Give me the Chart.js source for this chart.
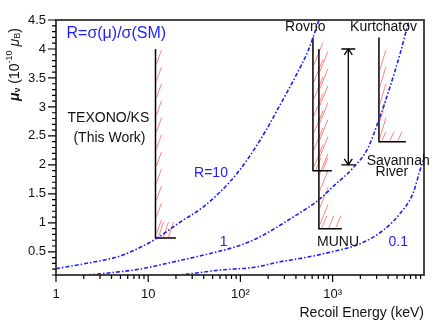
<!DOCTYPE html>
<html>
<head>
<meta charset="utf-8">
<script src="https://cdn.jsdelivr.net/npm/chart.js@4/dist/chart.umd.min.js"></script>
<style>
  html, body { margin: 0; padding: 0; background: #fff; }
</style>
</head>
<body>
<canvas id="c" width="436" height="322"></canvas>
<script>
// R = sigma(mu)/sigma(SM) sensitivity curves
const r10E  = [1, 2.3, 4.8, 7.8, 12, 22.6, 40, 77, 120, 190, 262, 394, 546, 671, 730];
const r10Mu = [0.21, 0.31, 0.42, 0.56, 0.72, 1.02, 1.28, 1.71, 2.1, 2.6, 3.0, 3.52, 3.98, 4.38, 4.55];
const r1E   = [2.2, 4, 8, 17, 40, 90, 150, 400, 700, 1050, 1650, 2400, 3160, 4200, 5400, 6300, 6900];
const r1Mu  = [0.1, 0.14, 0.2, 0.31, 0.445, 0.59, 0.73, 1.13, 1.39, 1.65, 1.94, 2.28, 2.77, 3.35, 3.92, 4.32, 4.55];
const r01E  = [20, 27, 60, 142, 271, 394, 890, 2020, 3570, 5380, 7450, 9120, 9800];
const r01Mu = [0.1, 0.117, 0.186, 0.233, 0.33, 0.37, 0.485, 0.645, 0.876, 1.16, 1.51, 1.97, 2.1];

// experimental limits: energy threshold, top of line, limit value, end of foot
const limitNames = ["TEXONO", "Rovno", "MUNU", "Kurtchatov"];
const limitE     = [12, 612, 710, 3180];
const limitTop   = [4.0, 4.2, 4.0, 4.2];
const limitLow   = [0.74, 1.9, 0.9, 2.4];
const limitFootE = [20, 980, 1260, 6230];

// Savannah River range (arrow)
const srE = 1480;
const srRange = [2.0, 4.0];

// axis
const xMin = 1, xMax = 9800;
const yMin = 0.1, yMax = 4.5;

// text annotations [text, energy, mu, colour, align]
const notes = [
  ["R=σ(μ)/σ(SM)", 1.3, 4.27, "blue", "left"],
  ["TEXONO/KS", 3.7, 2.81, "black", "center"],
  ["(This Work)", 3.8, 2.46, "black", "center"],
  ["R=10", 48, 1.86, "blue", "center"],
  ["1", 66, 0.67, "blue", "center"],
  ["0.1", 5150, 0.67, "blue", "center"],
  ["MUNU", 1145, 0.67, "black", "center"],
  ["Rovno", 505, 4.38, "black", "center"],
  ["Kurtchatov", 3570, 4.38, "black", "center"],
  ["Savannah", 2340, 2.07, "black", "left"],
  ["River", 2920, 1.87, "black", "left"]
];

const BLUE = "rgb(30,30,255)";
const FONT = "'Liberation Sans', Arial, sans-serif";

// hatch look per limit (px)
const hatchStyle = [
  { vStep: 17, vw: 5, vh: 14, hStep: 5, hw: 5, hh: 15 },
  { vStep: 17, vw: 9, vh: 22, hStep: 7, hw: 5, hh: 12 },
  { vStep: 17, vw: 8, vh: 20, hStep: 7, hw: 5, hh: 12 },
  { vStep: 17, vw: 6, vh: 20, hStep: 8, hw: 4, hh: 9 }
];

function pts(xs, ys) { return xs.map((x, i) => ({ x: x, y: ys[i] })); }

function curve(xs, ys) {
  return {
    data: pts(xs, ys),
    borderColor: BLUE,
    borderWidth: 1.6,
    borderDash: [4, 2, 1.5, 2],
    pointRadius: 0,
    cubicInterpolationMode: "monotone",
    fill: false
  };
}

const datasets = [curve(r10E, r10Mu), curve(r1E, r1Mu), curve(r01E, r01Mu)];
limitNames.forEach((n, i) => {
  datasets.push({
    label: n,
    data: [
      { x: limitE[i], y: limitTop[i] },
      { x: limitE[i], y: limitLow[i] },
      { x: limitFootE[i], y: limitLow[i] }
    ],
    borderColor: "#000",
    borderWidth: 1.5,
    pointRadius: 0,
    tension: 0,
    hatch: hatchStyle[i]
  });
});
datasets.push({
  label: "SR",
  data: [{ x: srE, y: srRange[0] }, { x: srE, y: srRange[1] }],
  borderColor: "#000",
  borderWidth: 1.3,
  pointRadius: 0,
  arrow: true
});

const sup = { 2: "²", 3: "³", 4: "⁴" };
function isPow10(v) {
  const e = Math.log10(v);
  return Math.abs(e - Math.round(e)) < 1e-9;
}

const decor = {
  id: "decor",
  beforeDatasetsDraw(chart) {
    const ctx = chart.ctx, a = chart.chartArea;
    ctx.save();
    ctx.beginPath();
    ctx.rect(a.left, a.top, a.right - a.left, a.bottom - a.top);
    ctx.clip();
    ctx.strokeStyle = "rgba(255,110,110,0.85)";
    ctx.lineWidth = 1;
    chart.data.datasets.forEach((ds, di) => {
      if (!ds.hatch) return;
      const h = ds.hatch;
      const p = chart.getDatasetMeta(di).data;
      const x0 = p[0].x, yTop = p[0].y, yLow = p[1].y, xEnd = p[2].x;
      ctx.beginPath();
      for (let y = yLow - 4; y - h.vh > yTop - 4; y -= h.vStep) {
        ctx.moveTo(x0 + 1, y);
        ctx.lineTo(x0 + 1 + h.vw, y - h.vh);
      }
      for (let x = x0 + 3; x + h.hw <= xEnd + 2; x += h.hStep) {
        ctx.moveTo(x, yLow - 1);
        ctx.lineTo(x + h.hw, yLow - 1 - h.hh);
      }
      ctx.stroke();
    });
    ctx.restore();
  },
  afterDraw(chart) {
    const ctx = chart.ctx, a = chart.chartArea;
    const xs = chart.scales.x, ys = chart.scales.y;
    ctx.save();

    // frame
    ctx.strokeStyle = "#333";
    ctx.lineWidth = 1.8;
    ctx.strokeRect(a.left, a.top, a.right - a.left, a.bottom - a.top);

    // ticks
    ctx.strokeStyle = "#000";
    ctx.lineWidth = 1.2;
    ctx.beginPath();
    xs.ticks.forEach(t => {
      const v = t.value;
      const sig = v / Math.pow(10, Math.floor(Math.log10(v) + 1e-9));
      if (Math.abs(sig - Math.round(sig)) > 1e-6) return;
      const px = xs.getPixelForValue(v);
      if (px > a.right - 1) return;
      ctx.moveTo(px, a.bottom);
      ctx.lineTo(px, a.bottom + (isPow10(v) ? 7 : 4));
    });
    ys.ticks.forEach(t => {
      const v = t.value;
      const py = ys.getPixelForValue(v);
      const major = Math.abs(v * 2 - Math.round(v * 2)) < 1e-6;
      ctx.moveTo(a.left, py);
      ctx.lineTo(a.left - (major ? 8 : 4), py);
    });
    ctx.stroke();

    // Savannah River arrow heads and bars
    chart.data.datasets.forEach((ds, di) => {
      if (!ds.arrow) return;
      const p = chart.getDatasetMeta(di).data;
      const x = p[0].x, yb = p[0].y, yt = p[1].y;
      ctx.lineWidth = 1.3;
      ctx.beginPath();
      ctx.moveTo(x - 7, yt); ctx.lineTo(x + 7, yt);
      ctx.moveTo(x - 4, yt + 6); ctx.lineTo(x, yt); ctx.lineTo(x + 4, yt + 6);
      ctx.moveTo(x - 7, yb); ctx.lineTo(x + 7, yb);
      ctx.moveTo(x - 4, yb - 6); ctx.lineTo(x, yb); ctx.lineTo(x + 4, yb - 6);
      ctx.stroke();
    });

    // annotations
    ctx.textBaseline = "middle";
    notes.forEach(n => {
      ctx.font = (n[0].startsWith("R=σ") ? "16px " : "14px ") + FONT;
      ctx.fillStyle = n[3] === "blue" ? BLUE : "#111";
      ctx.textAlign = n[4];
      ctx.fillText(n[0], xs.getPixelForValue(n[1]), ys.getPixelForValue(n[2]));
    });

    // x title
    ctx.fillStyle = "#111";
    ctx.font = "14px " + FONT;
    ctx.textAlign = "right";
    ctx.fillText("Recoil Energy (keV)", a.right, 313);

    // y title (rotated, with sub/superscripts)
    ctx.translate(15, 101);
    ctx.rotate(-Math.PI / 2);
    ctx.textAlign = "left";
    const parts = [
      ["μ", "bold italic 14px", 0],
      ["ν", "bold 9px", 3],
      [" (10", "14px", 0],
      ["-10", "9px", -5],
      [" μ", "italic 14px", 0],
      ["B", "9px", 3],
      [")", "14px", 0]
    ];
    let cx = 0;
    parts.forEach(pt => {
      ctx.font = pt[1] + " " + FONT;
      ctx.fillText(pt[0], cx, pt[2]);
      cx += ctx.measureText(pt[0]).width;
    });
    ctx.restore();
  }
};

new Chart(document.getElementById("c"), {
  type: "line",
  data: { datasets: datasets },
  options: {
    responsive: false,
    animation: false,
    events: [],
    layout: { padding: { top: 20, right: 5, left: 0, bottom: 0 } },
    plugins: { legend: { display: false }, tooltip: { enabled: false } },
    scales: {
      x: {
        type: "logarithmic",
        min: xMin,
        max: xMax,
        grid: { display: false, drawTicks: false },
        border: { display: false },
        afterFit: s => { s.height = 47; },
        ticks: {
          autoSkip: false,
          maxRotation: 0,
          minRotation: 0,
          padding: 12,
          color: "#111",
          font: { family: FONT, size: 13 },
          callback: v => {
            if (!isPow10(v)) return "";
            const e = Math.round(Math.log10(v));
            return e === 0 ? "1" : e === 1 ? "10" : "10" + sup[e];
          }
        }
      },
      y: {
        type: "linear",
        min: yMin,
        max: yMax,
        grid: { display: false, drawTicks: false },
        border: { display: false },
        afterFit: s => { s.width = 56; },
        ticks: {
          stepSize: 0.1,
          autoSkip: false,
          maxTicksLimit: 100,
          padding: 10,
          color: "#111",
          font: { family: FONT, size: 13 },
          callback: v => Math.abs(v * 2 - Math.round(v * 2)) < 1e-6 ? String(Math.round(v * 10) / 10) : ""
        }
      }
    }
  },
  plugins: [decor]
});
</script>
</body>
</html>
